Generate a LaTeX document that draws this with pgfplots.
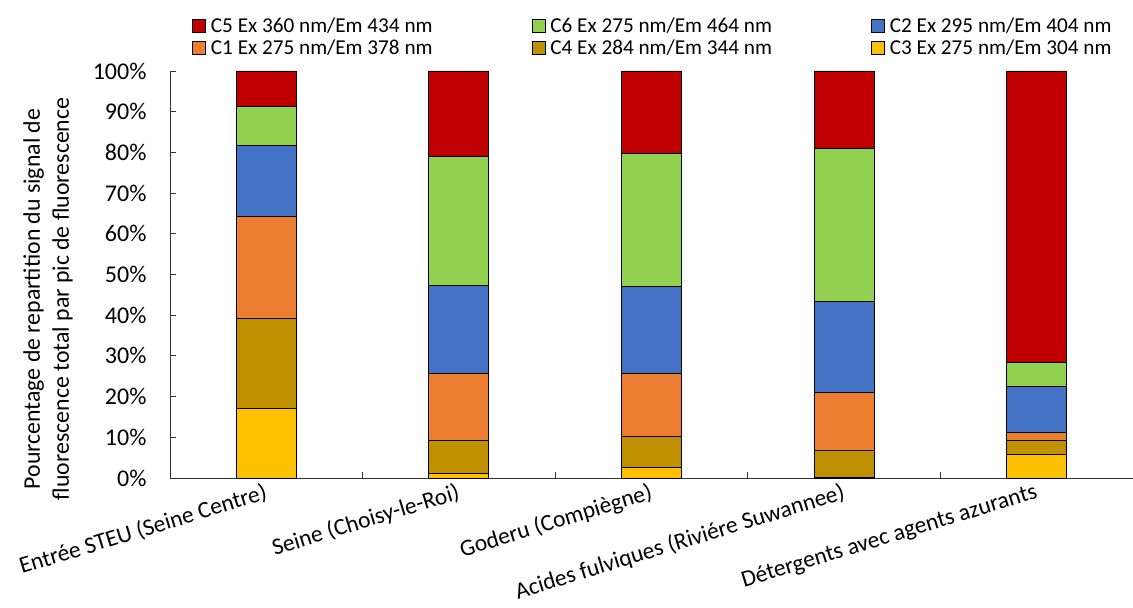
\documentclass[border=0pt]{standalone}
\usepackage{pgfplots}
\pgfplotsset{compat=1.18}
\usepackage{fontspec}
\setmainfont{Carlito}
\definecolor{cfive}{HTML}{C00000}
\definecolor{csix}{HTML}{92D050}
\definecolor{ctwo}{HTML}{4472C4}
\definecolor{cone}{HTML}{ED7D31}
\definecolor{cfour}{HTML}{BF9000}
\definecolor{cthree}{HTML}{FFC000}
\begin{document}
\begin{tikzpicture}
\useasboundingbox (-170pt,-130pt) rectangle (963pt,478pt);
\begin{axis}[
  at={(0pt,0pt)}, anchor=south west,
  width=963pt, height=407pt, scale only axis,
  ybar stacked, bar width=60pt,
  xmin=-0.5, xmax=4.5, ymin=0, ymax=100,
  axis x line*=bottom, axis y line*=left,
  axis line style={draw=black!80, line width=0.9pt, -},
  xtick={0,1,2,3,4},
  xticklabels={Entrée STEU (Seine Centre), Seine (Choisy-le-Roi), Goderu (Compiègne), Acides fulviques (Riviére Suwannee), Détergents avec agents azurants},
  major x tick style={draw=none},
  minor xtick={0.5,1.5,2.5,3.5},
  minor x tick style={draw=black!80, line width=0.9pt},
  ytick={0,10,...,100},
  yticklabel={\pgfmathprintnumber{\tick}\%},
  tick align=inside,
  major tick length=6pt, minor tick length=6pt,
  y tick style={draw=black!80, line width=0.9pt},
  /pgf/number format/assume math mode=true,
  yticklabel style={font=\fontsize{24}{27}\selectfont, xshift=-20pt},
  xticklabel style={font=\fontsize{23.5}{28}\selectfont, rotate=17, anchor=north east, xshift=-4pt, yshift=-3pt, inner sep=0pt},
  ylabel={Pourcentage de repartition du signal de\\fluorescence total par pic de fluorescence},
  ylabel style={font=\fontsize{23.8}{29}\selectfont, align=center, at={(axis description cs:-0.1267,0.44)}, anchor=center},
  reverse legend,
  legend columns=3,
  legend style={at={(axis description cs:0.0228,1.137)}, anchor=north west, draw=none, fill=none,
    font=\fontsize{21.2}{24}\selectfont, inner sep=0pt, row sep=2pt,
    /tikz/every odd column/.style={column sep=3pt},
    /tikz/column 2/.style={column sep=97pt},
    /tikz/column 4/.style={column sep=97pt}},
  legend image code/.code={\draw[#1, draw=black, line width=0.8pt] (0pt,-6.5pt) rectangle (13pt,6.5pt);},
  every axis plot/.append style={draw=black, line width=0.9pt},
]
\addplot[fill=cthree] coordinates {(0,17.0) (1,1.1) (2,2.6) (3,0.2) (4,5.9)};
\addlegendentry{C3 Ex 275 nm/Em 304 nm}
\addplot[fill=cfour] coordinates {(0,22.2) (1,8.1) (2,7.6) (3,6.5) (4,3.4)};
\addlegendentry{C4 Ex 284 nm/Em 344 nm}
\addplot[fill=cone] coordinates {(0,25.0) (1,16.4) (2,15.4) (3,14.4) (4,1.9)};
\addlegendentry{C1 Ex 275 nm/Em 378 nm}
\addplot[fill=ctwo] coordinates {(0,17.6) (1,21.8) (2,21.4) (3,22.3) (4,11.2)};
\addlegendentry{C2 Ex 295 nm/Em 404 nm}
\addplot[fill=csix] coordinates {(0,9.4) (1,31.7) (2,32.7) (3,37.6) (4,5.9)};
\addlegendentry{C6 Ex 275 nm/Em 464 nm}
\addplot[fill=cfive] coordinates {(0,8.8) (1,20.9) (2,20.3) (3,19.0) (4,71.7)};
\addlegendentry{C5 Ex 360 nm/Em 434 nm}
\end{axis}
\end{tikzpicture}
\end{document}
